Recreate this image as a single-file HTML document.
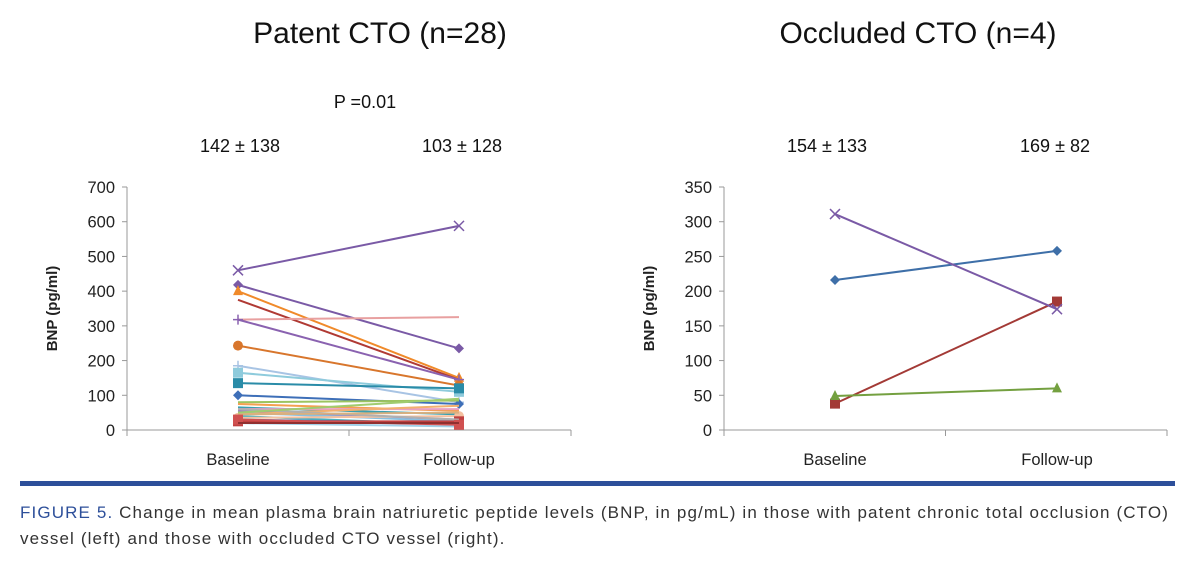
<!DOCTYPE html>
<html><head><meta charset="utf-8"><style>
body{margin:0;background:#fff;width:1200px;height:565px;overflow:hidden;font-family:"Liberation Sans",sans-serif}
#cap{position:absolute;left:20px;top:500px;width:1175px;font-size:17px;letter-spacing:1.13px;line-height:26px;color:#333;white-space:nowrap}
#cap b{color:#2d4f9a;font-weight:normal}
</style></head><body>
<svg id="svg" width="1200" height="565" style="position:absolute;left:0;top:0"></svg>
<div id="cap"><b>FIGURE 5.</b> Change in mean plasma brain natriuretic peptide levels (BNP, in pg/mL) in those with patent chronic total occlusion (CTO)<br>vessel (left) and those with occluded CTO vessel (right).</div>
<script>
const categories=["Baseline","Follow-up"];
const leftTicks=[0,100,200,300,400,500,600,700];
const rightTicks=[0,50,100,150,200,250,300,350];
const leftBase=[460,418,400,375,318,318,243,185,165,135,100,80,75,65,60,55,50,45,40,35,30,25,20,60,50,45,30,20];
const leftFollow=[588,235,150,145,325,145,128,80,110,120,75,85,55,45,60,30,25,70,15,40,20,25,10,30,90,50,15,20];
const leftColors=["#7a5aa6","#7a5aa6","#f08a2a","#b03a34","#e8a0a0","#8a62b0","#d8762c","#a8c4e4","#8ecbdc","#2a8ca8","#3e6fb8","#9cc460","#f4a050","#3aa0b0","#e8a0c0","#9c80c0","#8ac0e0","#f2b070","#4ab0c0","#f4c0a0","#5a80c0","#c04040","#a0d0e8","#b0b0b0","#a0cc70","#d8b080","#d05050","#903030"];
const leftMarkers=["x","d","t","n","n","p","c","p","s","s","d","n","n","n","n","n","n","n","n","c","n","s","n","n","n","n","s","n"];
const rightBase=[216,38,49,311];
const rightFollow=[258,185,60,174];
const rightColors=["#3e6fa8","#a33a36","#74a040","#7a5aa6"];
const rightMarkers=["d","s","t","x"];
const S=document.getElementById('svg');const NS="http://www.w3.org/2000/svg";
function el(t,a,txt){const e=document.createElementNS(NS,t);for(const k in a)e.setAttribute(k,a[k]);if(txt!==undefined)e.textContent=txt;S.appendChild(e);return e;}
function marker(m,x,y,c){let e;
 if(m==="x"){e=el('path',{d:`M${x-5},${y-5}L${x+5},${y+5}M${x-5},${y+5}L${x+5},${y-5}`,stroke:c,'stroke-width':1.5});}
 else if(m==="p"){e=el('path',{d:`M${x-5},${y}L${x+5},${y}M${x},${y-5}L${x},${y+5}`,stroke:c,'stroke-width':1.5});}
 else if(m==="d"){e=el('path',{d:`M${x},${y-5}L${x+5},${y}L${x},${y+5}L${x-5},${y}Z`,fill:c});}
 else if(m==="s"){e=el('rect',{x:x-5,y:y-5,width:10,height:10,fill:c});}
 else if(m==="t"){e=el('path',{d:`M${x},${y-6}L${x+5},${y+4}L${x-5},${y+4}Z`,fill:c});}
 else if(m==="c"){e=el('circle',{cx:x,cy:y,r:5,fill:c});}
 else return;
 
 }
function chart(o){
 const ys=v=>o.y0-(v/o.max)*(o.y0-o.yTop);
 const xs=i=>o.cx[i];
 let e=el('line',{x1:o.x0,y1:o.yTop,x2:o.x0,y2:o.y0,stroke:'#999'});
 
 e=el('line',{x1:o.x0,y1:o.y0,x2:o.x1,y2:o.y0,stroke:'#999'});
 
 [o.x0,(o.x0+o.x1)/2,o.x1].forEach(x=>el('line',{x1:x,y1:o.y0,x2:x,y2:o.y0+6,stroke:'#999'}));
 o.ticks.forEach(t=>{el('line',{x1:o.x0-5,y1:ys(t),x2:o.x0,y2:ys(t),stroke:'#999'});
  e=el('text',{x:o.x0-12,y:ys(t)+6,'text-anchor':'end','font-size':16.5,fill:'#222'},t);
  });
 categories.forEach((c,i)=>{e=el('text',{x:xs(i),y:465,'text-anchor':'middle','font-size':16.5,fill:'#222'},c);
  });
 e=el('text',{x:0,y:0,transform:`translate(${o.x0-70},${(o.y0+o.yTop)/2}) rotate(-90)`,'text-anchor':'middle','font-size':15,'font-weight':'bold',fill:'#222'},'BNP (pg/ml)');
 
 o.base.forEach((b,i)=>{const f=o.follow[i];
  e=el('line',{x1:xs(0),y1:ys(b),x2:xs(1),y2:ys(f),stroke:o.colors[i],'stroke-width':2});
  
  marker(o.markers[i],xs(0),ys(b),o.colors[i]);marker(o.markers[i],xs(1),ys(f),o.colors[i]);});
}
chart({x0:127,x1:571,y0:430,yTop:187,max:700,cx:[238,459],ticks:leftTicks,base:leftBase,follow:leftFollow,colors:leftColors,markers:leftMarkers});
chart({x0:724,x1:1167,y0:430,yTop:187,max:350,cx:[835,1057],ticks:rightTicks,base:rightBase,follow:rightFollow,colors:rightColors,markers:rightMarkers});
function txt(x,y,s,t,n){const e=el('text',{x:x,y:y,'text-anchor':'middle','font-size':s,fill:'#111'},t);
 }
txt(380,43,30,'Patent CTO (n=28)','left-title');
txt(918,43,30,'Occluded CTO (n=4)','right-title');
txt(365,108,18,'P =0.01','p-value');
txt(240,152,18,'142 ± 138','left-baseline-mean');
txt(462,152,18,'103 ± 128','left-followup-mean');
txt(827,152,18,'154 ± 133','right-baseline-mean');
txt(1055,152,18,'169 ± 82','right-followup-mean');
const r=el('rect',{x:20,y:481,width:1155,height:5,fill:'#2d4f9a'});

</script>
</body></html>
